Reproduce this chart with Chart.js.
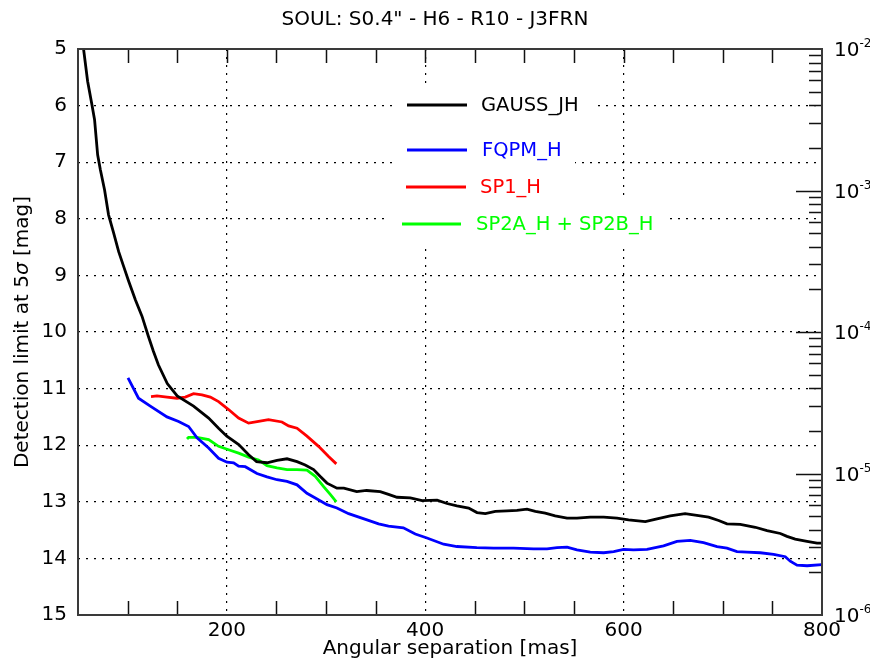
<!DOCTYPE html>
<html>
<head>
<meta charset="utf-8">
<script src="https://cdn.jsdelivr.net/npm/chart.js@4/dist/chart.umd.min.js"></script>
<style>
  html, body { margin: 0; padding: 0; background: #fff; }
  canvas { display: block; }
</style>
</head>
<body>
<canvas id="chart" width="870" height="662"></canvas>
<script>
const TITLE = 'SOUL: S0.4" - H6 - R10 - J3FRN';
const X_LABELS = [200, 400, 600, 800];
const X_GRID = [200, 400, 600];
const DECADES = [-2, -3, -4, -5, -6];

// GAUSS_JH
const gaussSep = [55.6, 59.7, 64, 66.7, 69.8, 72.5, 76.8, 80.8, 85.9, 91, 96, 101, 107.8, 114.5, 121, 126, 131, 140, 150, 166.5, 181.7, 191.7, 200, 212, 222, 230, 240.5, 250.6, 260.7, 270.8, 279, 287.5, 294, 301, 311, 318, 331, 341, 354.7, 363, 371.6, 385, 396.8, 412, 422, 432, 443.8, 452.2, 460.6, 470.7, 482.5, 492.5, 502.6, 511, 521, 531, 543, 553, 566.4, 579.9, 593.4, 605, 621.9, 633.7, 647, 662, 677.3, 685.7, 695.8, 704.2, 717.6, 732.8, 744.6, 758, 764.7, 773, 784.9, 795, 800];
const gaussMag = [5.0, 5.57, 5.98, 6.25, 6.87, 7.13, 7.49, 7.93, 8.25, 8.58, 8.84, 9.1, 9.43, 9.72, 10.08, 10.34, 10.58, 10.91, 11.13, 11.31, 11.52, 11.70, 11.84, 11.99, 12.17, 12.29, 12.31, 12.27, 12.24, 12.29, 12.35, 12.43, 12.55, 12.67, 12.76, 12.76, 12.82, 12.80, 12.82, 12.87, 12.92, 12.93, 12.98, 12.97, 13.03, 13.07, 13.11, 13.19, 13.21, 13.17, 13.16, 13.15, 13.13, 13.17, 13.20, 13.25, 13.29, 13.29, 13.27, 13.27, 13.29, 13.32, 13.35, 13.30, 13.25, 13.21, 13.25, 13.27, 13.33, 13.39, 13.40, 13.45, 13.51, 13.56, 13.61, 13.66, 13.70, 13.73, 13.73];

// FQPM_H
const fqpmSep = [100.4, 111, 122.9, 139.7, 151.4, 161.5, 170, 181.7, 191.7, 200.2, 206.9, 211.9, 218.6, 230.4, 240.5, 250.6, 260.7, 270.8, 280.8, 291, 301, 311, 322.8, 341.3, 353, 363, 378, 390, 401.8, 418.6, 432, 452, 469, 489, 509.3, 522.8, 532.9, 543, 553, 566.4, 579.9, 590, 600, 610, 623.6, 640.3, 653.8, 667.2, 680.6, 694.2, 704.2, 714.3, 724.4, 737.8, 751.2, 763, 768, 774.8, 785, 800];
const fqpmMag = [10.81, 11.17, 11.31, 11.50, 11.58, 11.67, 11.87, 12.05, 12.23, 12.30, 12.31, 12.37, 12.38, 12.50, 12.56, 12.61, 12.64, 12.70, 12.85, 12.95, 13.05, 13.11, 13.21, 13.32, 13.39, 13.43, 13.46, 13.57, 13.64, 13.75, 13.79, 13.81, 13.82, 13.82, 13.83, 13.83, 13.81, 13.80, 13.85, 13.89, 13.90, 13.88, 13.84, 13.85, 13.84, 13.78, 13.70, 13.68, 13.72, 13.79, 13.82, 13.88, 13.89, 13.90, 13.93, 13.97, 14.05, 14.12, 14.13, 14.11];

// SP1_H
const sp1Sep = [123.6, 129.6, 139.7, 149.8, 158.2, 166.5, 175, 183.4, 191.7, 201.8, 211.9, 222, 232, 242, 255.6, 262.3, 270.8, 280.8, 292.5, 302.6, 310.4];
const sp1Mag = [11.14, 11.13, 11.15, 11.17, 11.15, 11.09, 11.11, 11.15, 11.23, 11.37, 11.52, 11.61, 11.58, 11.55, 11.59, 11.66, 11.70, 11.84, 12.02, 12.20, 12.33];

// SP2A_H + SP2B_H
const sp2Sep = [159.9, 161.5, 170, 181.7, 191.7, 201.8, 211.9, 222, 232, 240.5, 250.6, 260.7, 270.8, 280.8, 289.2, 297.6, 304.3, 310.4];
const sp2Mag = [11.89, 11.86, 11.86, 11.90, 12.02, 12.08, 12.14, 12.21, 12.26, 12.36, 12.40, 12.43, 12.43, 12.44, 12.55, 12.73, 12.87, 13.0];

const SERIES = [
  { label: 'GAUSS_JH', sep: gaussSep, mag: gaussMag, color: '#000000', text: '#000000' },
  { label: 'FQPM_H', sep: fqpmSep, mag: fqpmMag, color: '#0000ff', text: '#0000ff' },
  { label: 'SP1_H', sep: sp1Sep, mag: sp1Mag, color: '#ff0000', text: '#ff0000' },
  { label: 'SP2A_H + SP2B_H', sep: sp2Sep, mag: sp2Mag, color: '#00ff00', text: '#00ff00' },
];

const FONT = '"DejaVu Sans", sans-serif';
Chart.defaults.font.family = FONT;
Chart.defaults.font.size = 20;
Chart.defaults.color = '#000';

const toPoints = (xs, ys) => xs.map((x, i) => ({ x, y: ys[i] }));

// each legend entry: line x0, x1, y, text x, white box [left, top, right, bottom]
const LEGEND_POS = [
  [407, 467, 105, 481, [395, 85, 597, 131]],
  [407, 467, 150, 482, [395, 129, 575, 169]],
  [406, 466, 187, 480, [395, 167, 556, 207]],
  [402, 461, 224, 476, [390, 200, 668, 244]],
];

const frameAndTicks = {
  id: 'frameAndTicks',
  afterDatasetsDraw(chart) {
    const { ctx, chartArea: a, scales: { x, y2 } } = chart;
    ctx.save();

    // legend boxes hide the grid behind them
    ctx.fillStyle = '#fff';
    for (const p of LEGEND_POS) {
      const [l, t, r, b] = p[4];
      ctx.fillRect(l, t, r - l, b - t);
    }

    ctx.strokeStyle = '#111';
    ctx.lineWidth = 1.5;
    ctx.beginPath();
    for (let v = 100; v < 800; v += 50) {
      const px = Math.round(x.getPixelForValue(v)) + 0.5;
      ctx.moveTo(px, a.top); ctx.lineTo(px, a.top + 14);
      if (!X_GRID.includes(v)) { ctx.moveTo(px, a.bottom); ctx.lineTo(px, a.bottom - 14); }
    }
    // log ticks on the right axis
    for (let e = -6; e <= -3; e++) {
      for (let k = 1; k <= 9; k++) {
        if (e === -6 && k === 1) continue;
        const py = Math.round(y2.getPixelForValue(k * Math.pow(10, e))) + 0.5;
        const len = k === 1 ? 26 : 13;
        ctx.moveTo(a.right, py); ctx.lineTo(a.right - len, py);
      }
    }
    ctx.stroke();

    ctx.strokeStyle = '#3a3a3a';
    ctx.lineWidth = 2;
    ctx.strokeRect(a.left, a.top, a.right - a.left, a.bottom - a.top);

    // right axis labels 10^n
    ctx.fillStyle = '#000';
    ctx.textBaseline = 'middle';
    ctx.textAlign = 'left';
    for (const e of DECADES) {
      const py = y2.getPixelForValue(Math.pow(10, e));
      ctx.font = '20px ' + FONT;
      ctx.fillText('10', a.right + 12, py + 2);
      const w = ctx.measureText('10').width;
      ctx.font = '12px ' + FONT;
      ctx.fillText(String(e), a.right + 12 + w, py - 5);
    }

    // y axis title with italic sigma
    ctx.save();
    ctx.translate(23, (a.top + a.bottom) / 2);
    ctx.rotate(-Math.PI / 2);
    const parts = [['Detection limit at 5', '20px ' + FONT], ['σ', 'italic 20px ' + FONT], [' [mag]', '20px ' + FONT]];
    let total = 0;
    for (const [t, f] of parts) { ctx.font = f; total += ctx.measureText(t).width; }
    let cx = -total / 2;
    for (const [t, f] of parts) { ctx.font = f; ctx.fillText(t, cx, 0); cx += ctx.measureText(t).width; }
    ctx.restore();

    // legend
    ctx.font = '19.5px ' + FONT;
    ctx.lineWidth = 2.8;
    SERIES.forEach((s, i) => {
      const [x0, x1, ly, tx] = LEGEND_POS[i];
      ctx.strokeStyle = s.color;
      ctx.beginPath(); ctx.moveTo(x0, ly); ctx.lineTo(x1, ly); ctx.stroke();
      ctx.fillStyle = s.text;
      ctx.fillText(s.label, tx, ly + 1);
    });
    ctx.restore();
  }
};

new Chart(document.getElementById('chart'), {
  type: 'line',
  data: {
    datasets: SERIES.map(s => ({
      label: s.label,
      data: toPoints(s.sep, s.mag),
      borderColor: s.color,
      backgroundColor: s.color,
      borderWidth: 2.8,
      pointRadius: 0,
      tension: 0,
      fill: false,
      yAxisID: 'y',
    })),
  },
  options: {
    responsive: false,
    animation: false,
    devicePixelRatio: 1,
    layout: { padding: 0 },
    plugins: {
      legend: { display: false },
      tooltip: { enabled: false },
      title: {
        display: true,
        text: TITLE,
        color: '#000',
        font: { size: 20, weight: 'normal' },
        padding: { top: 8, bottom: 17 },
      },
    },
    scales: {
      x: {
        type: 'linear',
        min: 50,
        max: 800,
        afterFit: s => { s.height = 47; },
        ticks: {
          stepSize: 50,
          autoSkip: false,
          maxRotation: 0,
          padding: 4,
          color: '#000',
          callback: v => (X_LABELS.includes(v) ? String(v) : ''),
        },
        grid: {
          drawTicks: false,
          lineWidth: 1.2,
          color: c => (c.tick && X_GRID.includes(c.tick.value) ? '#000' : 'rgba(0,0,0,0)'),
        },
        border: { display: false, dash: [2, 6] },
        title: { display: true, text: 'Angular separation [mas]', color: '#000', font: { size: 20 }, padding: { top: 0, bottom: 1 } },
      },
      y: {
        type: 'linear',
        position: 'left',
        reverse: true,
        min: 5,
        max: 15,
        afterFit: s => { s.width = 78; },
        ticks: { stepSize: 1, padding: 11, color: '#000' },
        grid: {
          drawTicks: false,
          lineWidth: 1.2,
          color: c => (c.tick && c.tick.value > 5 && c.tick.value < 15 ? '#000' : 'rgba(0,0,0,0)'),
        },
        border: { display: false, dash: [2, 6] },
      },
      y2: {
        type: 'logarithmic',
        position: 'right',
        min: 1e-6,
        max: 1e-2,
        afterFit: s => { s.width = 48; },
        ticks: { display: false },
        grid: { display: false, drawTicks: false },
        border: { display: false },
      },
    },
  },
  plugins: [frameAndTicks],
});
</script>
</body>
</html>
